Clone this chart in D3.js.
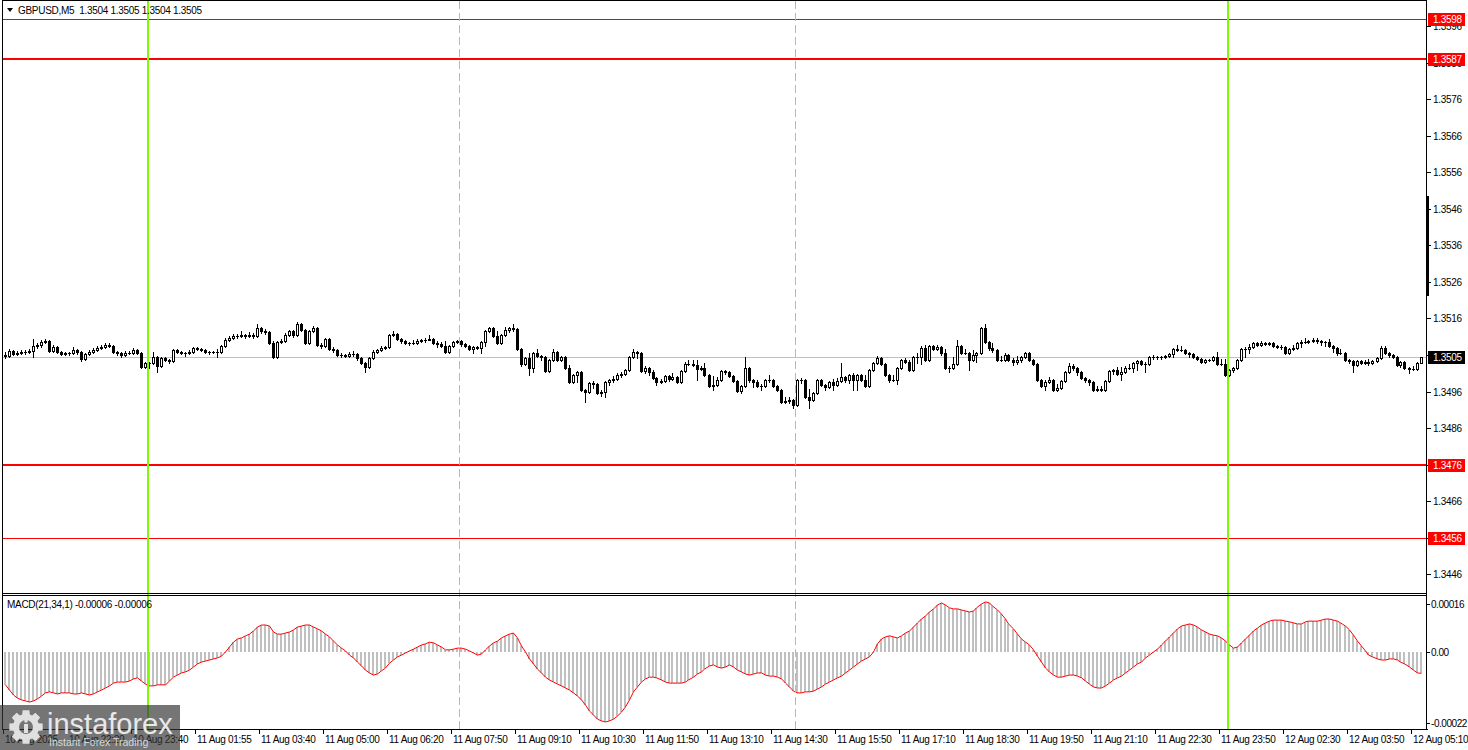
<!DOCTYPE html>
<html><head><meta charset="utf-8">
<script src="https://cdn.jsdelivr.net/npm/d3@7/dist/d3.min.js"></script>
<style>
html,body{margin:0;padding:0;background:#fff;overflow:hidden;}
svg{display:block;}
text{font-family:"Liberation Sans",Arial,sans-serif;}
</style></head><body>
<svg id="c" width="1468" height="750"></svg>
<script>
const symbol = "GBPUSD,M5";
const firstOpen = 1.35059;
const closes = [
1.35057,1.35070,1.35062,1.35065,1.35068,1.35068,1.35070,1.35084,1.35087,1.35095,
1.35098,1.35070,1.35081,1.35068,1.35062,1.35065,1.35065,1.35073,1.35068,1.35049,
1.35062,1.35068,1.35073,1.35079,1.35081,1.35087,1.35084,1.35068,1.35065,1.35059,
1.35065,1.35065,1.35073,1.35065,1.35027,1.35038,1.35038,1.35054,1.35029,1.35051,
1.35046,1.35043,1.35073,1.35068,1.35065,1.35065,1.35068,1.35079,1.35076,1.35073,
1.35068,1.35068,1.35068,1.35068,1.35084,1.35101,1.35106,1.35112,1.35112,1.35114,
1.35112,1.35114,1.35112,1.35133,1.35125,1.35122,1.35092,1.35054,1.35095,1.35098,
1.35114,1.35125,1.35114,1.35144,1.35128,1.35092,1.35125,1.35133,1.35087,1.35084,
1.35103,1.35076,1.35073,1.35059,1.35059,1.35057,1.35062,1.35062,1.35051,1.35038,
1.35027,1.35051,1.35068,1.35073,1.35079,1.35081,1.35114,1.35117,1.35103,1.35098,
1.35092,1.35092,1.35092,1.35098,1.35101,1.35101,1.35103,1.35092,1.35090,1.35084,
1.35068,1.35084,1.35095,1.35098,1.35090,1.35084,1.35076,1.35081,1.35079,1.35095,
1.35125,1.35133,1.35112,1.35092,1.35114,1.35128,1.35133,1.35131,1.35076,1.35035,
1.35051,1.35024,1.35065,1.35057,1.35054,1.35016,1.35046,1.35068,1.35046,1.35054,
1.35024,1.34986,1.35005,1.35013,1.34964,1.34958,1.34983,1.34980,1.34955,1.34958,
1.34986,1.34991,1.34994,1.35005,1.35008,1.35018,1.35054,1.35068,1.35065,1.35016,
1.35024,1.35013,1.34997,1.34986,1.34988,1.35002,1.34994,1.34999,1.34986,1.35016,
1.35035,1.35035,1.35032,1.35021,1.35024,1.35005,1.34975,1.34977,1.34991,1.35016,
1.35013,1.35002,1.34988,1.34961,1.34975,1.35024,1.34991,1.34986,1.34975,1.34975,
1.34991,1.34991,1.34975,1.34964,1.34931,1.34934,1.34936,1.34923,1.34991,1.34991,
1.34945,1.34936,1.34955,1.34991,1.34977,1.34972,1.34986,1.34977,1.34988,1.34999,
1.34991,1.35005,1.34991,1.35005,1.34991,1.34975,1.35018,1.35038,1.35051,1.35035,
1.35005,1.34991,1.34991,1.35024,1.35046,1.35040,1.35018,1.35054,1.35054,1.35079,
1.35046,1.35084,1.35076,1.35081,1.35065,1.35024,1.35024,1.35035,1.35084,1.35065,
1.35065,1.35046,1.35059,1.35065,1.35133,1.35095,1.35079,1.35073,1.35046,1.35046,
1.35059,1.35046,1.35040,1.35046,1.35054,1.35065,1.35046,1.35035,1.34991,1.34975,
1.34986,1.34991,1.34964,1.34969,1.34988,1.35013,1.35029,1.35024,1.35013,1.34997,
1.34991,1.34986,1.34964,1.34966,1.34964,1.34988,1.35016,1.35018,1.35008,1.35013,
1.35024,1.35024,1.35038,1.35043,1.35035,1.35035,1.35054,1.35054,1.35054,1.35054,
1.35057,1.35062,1.35076,1.35073,1.35073,1.35065,1.35062,1.35054,1.35049,1.35040,
1.35046,1.35046,1.35054,1.35035,1.35035,1.35005,1.35018,1.35024,1.35046,1.35076,
1.35076,1.35081,1.35092,1.35087,1.35092,1.35090,1.35092,1.35084,1.35081,1.35081,
1.35065,1.35076,1.35079,1.35092,1.35095,1.35095,1.35098,1.35101,1.35098,1.35095,
1.35095,1.35084,1.35079,1.35065,1.35065,1.35046,1.35043,1.35032,1.35043,1.35038,
1.35040,1.35038,1.35043,1.35051,1.35079,1.35065,1.35059,1.35054,1.35032,1.35040,
1.35024,1.35021,1.35021,1.35038,1.35054];
const highs = [
1.35068,1.35076,1.35073,1.35070,1.35073,1.35073,1.35076,1.35103,1.35092,1.35101,
1.35103,1.35101,1.35087,1.35084,1.35070,1.35068,1.35068,1.35081,1.35076,1.35070,
1.35065,1.35073,1.35079,1.35084,1.35087,1.35092,1.35092,1.35087,1.35070,1.35068,
1.35070,1.35070,1.35079,1.35076,1.35068,1.35040,1.35040,1.35068,1.35057,1.35054,
1.35054,1.35049,1.35076,1.35076,1.35070,1.35068,1.35073,1.35081,1.35081,1.35079,
1.35076,1.35070,1.35070,1.35076,1.35087,1.35106,1.35112,1.35117,1.35117,1.35125,
1.35117,1.35122,1.35120,1.35144,1.35136,1.35131,1.35125,1.35098,1.35098,1.35103,
1.35120,1.35128,1.35128,1.35150,1.35147,1.35131,1.35128,1.35139,1.35136,1.35092,
1.35106,1.35106,1.35081,1.35076,1.35065,1.35062,1.35068,1.35070,1.35065,1.35054,
1.35040,1.35054,1.35073,1.35076,1.35084,1.35084,1.35117,1.35125,1.35120,1.35106,
1.35101,1.35095,1.35101,1.35103,1.35103,1.35106,1.35114,1.35106,1.35098,1.35095,
1.35098,1.35087,1.35098,1.35101,1.35101,1.35092,1.35087,1.35084,1.35084,1.35098,
1.35128,1.35136,1.35136,1.35125,1.35117,1.35136,1.35136,1.35144,1.35133,1.35079,
1.35054,1.35065,1.35068,1.35076,1.35059,1.35057,1.35049,1.35076,1.35070,1.35057,
1.35057,1.35032,1.35008,1.35016,1.35016,1.34966,1.34986,1.34988,1.34983,1.34964,
1.34988,1.34994,1.35002,1.35010,1.35013,1.35021,1.35057,1.35076,1.35070,1.35068,
1.35029,1.35027,1.35018,1.34999,1.34994,1.35005,1.35005,1.35010,1.35002,1.35018,
1.35040,1.35046,1.35046,1.35046,1.35029,1.35038,1.35008,1.35002,1.34999,1.35018,
1.35018,1.35016,1.35005,1.34991,1.34977,1.35054,1.35027,1.34994,1.34991,1.34980,
1.34994,1.35005,1.34994,1.34977,1.34966,1.34945,1.34945,1.34939,1.34994,1.34997,
1.34994,1.34966,1.34958,1.34994,1.34994,1.34980,1.34988,1.34994,1.34997,1.35038,
1.35002,1.35008,1.35010,1.35008,1.35008,1.35005,1.35021,1.35040,1.35057,1.35054,
1.35038,1.35008,1.35005,1.35027,1.35049,1.35051,1.35046,1.35057,1.35065,1.35084,
1.35087,1.35087,1.35087,1.35087,1.35084,1.35076,1.35029,1.35054,1.35101,1.35087,
1.35076,1.35068,1.35073,1.35068,1.35136,1.35144,1.35098,1.35092,1.35076,1.35057,
1.35065,1.35062,1.35051,1.35057,1.35057,1.35068,1.35068,1.35049,1.35038,1.34994,
1.34991,1.34999,1.34994,1.34980,1.34991,1.35016,1.35038,1.35035,1.35027,1.35016,
1.34999,1.34994,1.34988,1.34975,1.34975,1.34991,1.35018,1.35021,1.35027,1.35027,
1.35029,1.35035,1.35040,1.35046,1.35046,1.35040,1.35057,1.35059,1.35057,1.35057,
1.35059,1.35065,1.35079,1.35087,1.35084,1.35076,1.35068,1.35065,1.35057,1.35051,
1.35049,1.35049,1.35057,1.35068,1.35049,1.35049,1.35021,1.35027,1.35049,1.35079,
1.35081,1.35090,1.35095,1.35095,1.35098,1.35095,1.35095,1.35095,1.35087,1.35087,
1.35084,1.35079,1.35087,1.35095,1.35101,1.35106,1.35101,1.35106,1.35106,1.35101,
1.35098,1.35103,1.35087,1.35081,1.35076,1.35068,1.35049,1.35046,1.35046,1.35046,
1.35046,1.35049,1.35046,1.35054,1.35084,1.35084,1.35068,1.35062,1.35057,1.35043,
1.35043,1.35027,1.35029,1.35040,1.35054];
const lows = [
1.35051,1.35054,1.35059,1.35059,1.35062,1.35062,1.35065,1.35054,1.35079,1.35081,
1.35092,1.35068,1.35068,1.35065,1.35059,1.35059,1.35059,1.35062,1.35062,1.35043,
1.35046,1.35059,1.35065,1.35070,1.35076,1.35079,1.35081,1.35065,1.35059,1.35054,
1.35057,1.35062,1.35062,1.35062,1.35024,1.35024,1.35024,1.35035,1.35013,1.35027,
1.35043,1.35038,1.35040,1.35065,1.35062,1.35057,1.35062,1.35065,1.35073,1.35070,
1.35065,1.35062,1.35065,1.35054,1.35065,1.35081,1.35098,1.35103,1.35106,1.35109,
1.35106,1.35109,1.35106,1.35109,1.35120,1.35117,1.35090,1.35051,1.35051,1.35092,
1.35095,1.35112,1.35109,1.35112,1.35125,1.35090,1.35090,1.35122,1.35084,1.35079,
1.35081,1.35073,1.35068,1.35057,1.35054,1.35054,1.35054,1.35057,1.35046,1.35035,
1.35013,1.35024,1.35049,1.35065,1.35070,1.35076,1.35079,1.35112,1.35101,1.35092,
1.35090,1.35087,1.35090,1.35090,1.35095,1.35095,1.35101,1.35090,1.35081,1.35081,
1.35065,1.35065,1.35081,1.35092,1.35084,1.35081,1.35073,1.35065,1.35076,1.35065,
1.35084,1.35122,1.35109,1.35090,1.35090,1.35112,1.35122,1.35125,1.35073,1.35029,
1.35032,1.35005,1.35013,1.35054,1.35046,1.35013,1.35013,1.35043,1.35043,1.35043,
1.35021,1.34983,1.34983,1.34986,1.34961,1.34931,1.34955,1.34969,1.34953,1.34947,
1.34945,1.34977,1.34986,1.34991,1.34999,1.35005,1.35016,1.35051,1.35051,1.35013,
1.35010,1.35005,1.34994,1.34977,1.34983,1.34986,1.34988,1.34991,1.34983,1.34983,
1.35013,1.35032,1.35029,1.34991,1.35018,1.35002,1.34972,1.34964,1.34975,1.34988,
1.35008,1.34999,1.34986,1.34958,1.34955,1.34972,1.34986,1.34972,1.34972,1.34964,
1.34972,1.34986,1.34972,1.34961,1.34928,1.34928,1.34928,1.34914,1.34920,1.34983,
1.34942,1.34914,1.34934,1.34953,1.34975,1.34964,1.34969,1.34964,1.34975,1.34986,
1.34986,1.34983,1.34964,1.34964,1.34988,1.34972,1.34972,1.35016,1.35035,1.35032,
1.35002,1.34986,1.34988,1.34980,1.35021,1.35038,1.35016,1.35016,1.35038,1.35035,
1.35043,1.35043,1.35073,1.35073,1.35059,1.35021,1.35013,1.35021,1.35032,1.35062,
1.35062,1.35018,1.35043,1.35040,1.35062,1.35092,1.35073,1.35068,1.35043,1.35043,
1.35043,1.35043,1.35032,1.35035,1.35040,1.35051,1.35043,1.35032,1.34988,1.34972,
1.34964,1.34983,1.34961,1.34961,1.34966,1.34986,1.35010,1.35018,1.35005,1.34994,
1.34986,1.34977,1.34961,1.34961,1.34961,1.34961,1.34986,1.35008,1.35005,1.34991,
1.35010,1.35021,1.35013,1.35018,1.35032,1.35013,1.35032,1.35049,1.35049,1.35049,
1.35051,1.35054,1.35054,1.35070,1.35070,1.35062,1.35054,1.35051,1.35046,1.35038,
1.35038,1.35043,1.35043,1.35032,1.35032,1.35002,1.35002,1.35013,1.35021,1.35043,
1.35054,1.35065,1.35079,1.35084,1.35084,1.35087,1.35087,1.35081,1.35079,1.35076,
1.35062,1.35062,1.35073,1.35076,1.35081,1.35092,1.35092,1.35095,1.35092,1.35087,
1.35084,1.35081,1.35068,1.35059,1.35062,1.35043,1.35038,1.35013,1.35029,1.35035,
1.35035,1.35032,1.35035,1.35040,1.35049,1.35062,1.35054,1.35051,1.35029,1.35027,
1.35021,1.35010,1.35018,1.35018,1.35038];
const macd = [
-0.000093,-0.000108,-0.000122,-0.000131,-0.000136,-0.000139,-0.000142,-0.000139,-0.000133,-0.000125,
-0.000116,-0.000113,-0.000116,-0.000119,-0.000116,-0.000116,-0.000116,-0.000119,-0.000119,-0.000116,
-0.000119,-0.000122,-0.000119,-0.000113,-0.000108,-0.000102,-0.000096,-0.000088,-0.000085,-0.000085,
-0.000085,-0.000082,-0.000076,-0.000073,-0.000082,-0.000091,-0.000096,-0.000096,-0.000093,-0.000093,
-0.000093,-0.000082,-0.000071,-0.000065,-0.000059,-0.000056,-0.000051,-0.000042,-0.000033,-0.000028,
-0.000025,-0.000022,-0.000019,-0.000016,-0.000011,0.000001,0.000015,0.000029,0.000038,0.000041,
0.000047,0.000052,0.000061,0.000072,0.000078,0.000078,0.000075,0.000058,0.000052,0.000052,
0.000055,0.000058,0.000064,0.000072,0.000075,0.000078,0.000078,0.000072,0.000067,0.000061,
0.000052,0.000044,0.000032,0.000021,0.000012,0.000004,-0.000008,-0.000016,-0.000028,-0.000039,
-0.000051,-0.000059,-0.000065,-0.000062,-0.000053,-0.000045,-0.000031,-0.000022,-0.000013,-0.000008,
-0.000002,0.000004,0.000009,0.000015,0.000021,0.000024,0.000029,0.000027,0.000021,0.000015,
0.000007,0.000007,0.000009,0.000012,0.000012,0.000009,0.000004,-0.000002,-0.000008,-0.000005,
0.000007,0.000018,0.000027,0.000032,0.000041,0.000047,0.000052,0.000055,0.000041,0.000018,
0.000001,-0.000019,-0.000033,-0.000048,-0.000059,-0.000071,-0.000079,-0.000085,-0.000091,-0.000096,
-0.000102,-0.000108,-0.000116,-0.000125,-0.000136,-0.000151,-0.000168,-0.000179,-0.000191,-0.000196,
-0.000199,-0.000196,-0.000191,-0.000182,-0.000171,-0.000156,-0.000136,-0.000113,-0.000099,-0.000085,
-0.000076,-0.000071,-0.000071,-0.000073,-0.000079,-0.000085,-0.000088,-0.000088,-0.000088,-0.000088,
-0.000085,-0.000079,-0.000071,-0.000062,-0.000056,-0.000048,-0.000039,-0.000036,-0.000042,-0.000045,
-0.000042,-0.000036,-0.000042,-0.000051,-0.000056,-0.000062,-0.000065,-0.000062,-0.000059,-0.000059,
-0.000065,-0.000068,-0.000068,-0.000071,-0.000076,-0.000088,-0.000099,-0.000111,-0.000116,-0.000116,
-0.000113,-0.000113,-0.000111,-0.000105,-0.000099,-0.000091,-0.000085,-0.000079,-0.000073,-0.000068,
-0.000059,-0.000051,-0.000042,-0.000033,-0.000025,-0.000019,-0.000013,0.000001,0.000024,0.000038,
0.000044,0.000047,0.000044,0.000041,0.000047,0.000055,0.000061,0.000072,0.000084,0.000095,
0.000104,0.000115,0.000124,0.000135,0.000141,0.000135,0.000127,0.000124,0.000124,0.000121,
0.000118,0.000115,0.000118,0.000127,0.000138,0.000144,0.000141,0.000132,0.000121,0.000109,
0.000095,0.000081,0.000067,0.000052,0.000038,0.000029,0.000021,0.000007,-0.000011,-0.000028,
-0.000045,-0.000056,-0.000065,-0.000071,-0.000071,-0.000068,-0.000065,-0.000065,-0.000068,-0.000073,
-0.000082,-0.000091,-0.000099,-0.000102,-0.000102,-0.000096,-0.000088,-0.000079,-0.000073,-0.000068,
-0.000059,-0.000051,-0.000042,-0.000033,-0.000028,-0.000016,-0.000008,0.000001,0.000009,0.000021,
0.000032,0.000044,0.000055,0.000067,0.000075,0.000078,0.000081,0.000078,0.000072,0.000064,
0.000058,0.000052,0.000049,0.000047,0.000041,0.000032,0.000021,0.000012,0.000015,0.000027,
0.000038,0.000049,0.000061,0.000069,0.000078,0.000084,0.000089,0.000092,0.000092,0.000092,
0.000089,0.000087,0.000084,0.000081,0.000081,0.000087,0.000089,0.000089,0.000089,0.000092,
0.000095,0.000095,0.000092,0.000089,0.000084,0.000075,0.000064,0.000049,0.000032,0.000018,
0.000004,-0.000008,-0.000013,-0.000019,-0.000022,-0.000022,-0.000019,-0.000019,-0.000022,-0.000028,
-0.000033,-0.000042,-0.000051,-0.000059,-0.000060];
const priceTicks = [1.3596,1.3586,1.3576,1.3566,1.3556,1.3546,1.3536,1.3526,1.3516,1.3506,1.3496,1.3486,1.3476,1.3466,1.3456,1.3446];
const levelPrices = [1.3598,1.3587,1.3476,1.3456];
const macdTicks = [0.00016, 0, -0.00022];
const timeTickBars = [0,16,32,48,64,80,96,112,128,144,160,176,192,208,224,240,256,272,288,304,320,336,352];
const timeTickLabels = ["10 Aug 2025","10 Aug 22:20","10 Aug 23:40","11 Aug 01:55","11 Aug 03:40","11 Aug 05:00","11 Aug 06:20","11 Aug 07:50","11 Aug 09:10","11 Aug 10:30","11 Aug 11:50","11 Aug 13:10","11 Aug 14:30","11 Aug 15:50","11 Aug 17:10","11 Aug 18:30","11 Aug 19:50","11 Aug 21:10","11 Aug 22:30","11 Aug 23:50","12 Aug 02:30","12 Aug 03:50","12 Aug 05:10"];
const solidLineBars = [36, 306];
const dashedLineBars = [114, 198];

// ---------- layout ----------
const svg = d3.select('#c');
const L = 2.5, R = 1426.5, mainTop = 0.5, mainBot = 593.5, macdTop = 595.5, macdBot = 729.5;
const n = closes.length;
const x = d3.scaleLinear().domain([0, n - 1]).range([4.5, 4.5 + 4 * (n - 1)]);
const y = d3.scaleLinear().domain([1.3446, 1.3596]).range([574.3, 26]);
const ym = d3.scaleLinear().domain([-0.00022, 0.00016]).range([729.3, 596.3]);
const FONT = 10, LS = '-0.3px';

const defs = svg.append('defs');
defs.append('clipPath').attr('id','clipMain').append('rect').attr('x',L).attr('y',mainTop).attr('width',R-L).attr('height',mainBot-mainTop);
defs.append('clipPath').attr('id','clipMacd').append('rect').attr('x',L).attr('y',macdTop).attr('width',R-L).attr('height',macdBot-macdTop);

svg.append('rect').attr('width',1468).attr('height',750).attr('fill','#fff');

// ---------- main chart ----------
const gMain = svg.append('g').attr('clip-path','url(#clipMain)').attr('shape-rendering','crispEdges');

const levelWidths = [1,2,2,1];
levelPrices.forEach((p,k)=>{
  const yy = Math.round(y(p));
  const yl = levelWidths[k]===2 ? yy : yy+0.5;
  gMain.append('line').attr('x1',L).attr('x2',R).attr('y1',yl).attr('y2',yl)
    .attr('stroke','#ff0000').attr('stroke-width',levelWidths[k]);
});
const lastClose = closes[n-1];
const bidY = Math.round(y(lastClose)) + 0.5;
gMain.append('line').attr('x1',L).attr('x2',R).attr('y1',bidY).attr('y2',bidY).attr('stroke','#c0c0c0');

closes.forEach((c,i)=>{
  const o = i===0 ? firstOpen : closes[i-1];
  const cx = Math.round(x(i));
  const yh = Math.round(y(highs[i])), yl = Math.round(y(lows[i]));
  const yo = y(o), yc = y(c);
  const top = Math.round(Math.min(yo,yc)), bot = Math.round(Math.max(yo,yc));
  gMain.append('line').attr('x1',cx+0.5).attr('x2',cx+0.5).attr('y1',yh).attr('y2',yl+1).attr('stroke','#000');
  if (bot - top < 1) {
    gMain.append('line').attr('x1',cx-1).attr('x2',cx+2).attr('y1',top+0.5).attr('y2',top+0.5).attr('stroke','#000');
  } else if (c > o) {
    gMain.append('rect').attr('x',cx-0.5).attr('y',top+0.5).attr('width',2).attr('height',bot-top).attr('fill','#fff').attr('stroke','#000');
  } else {
    gMain.append('rect').attr('x',cx-1).attr('y',top).attr('width',3).attr('height',bot-top+1).attr('fill','#000');
  }
});

// ---------- MACD ----------
const gMacd = svg.append('g').attr('clip-path','url(#clipMacd)');
const zeroY = ym(0);
gMacd.selectAll('rect.h').data(macd).enter().append('rect')
  .attr('x',(d,i)=>Math.round(x(i))-1).attr('width',2)
  .attr('y',d=>Math.round(Math.min(zeroY, ym(d)))).attr('height',d=>Math.max(1,Math.round(Math.abs(ym(d)-zeroY))))
  .attr('fill','#c0c0c0').attr('shape-rendering','crispEdges');
gMacd.append('path').datum(macd)
  .attr('d', d3.line().x((d,i)=>Math.round(x(i))+0.5).y(d=>ym(d)))
  .attr('fill','none').attr('stroke','#ff0000').attr('stroke-width',1);

// ---------- vertical lines ----------
const gV = svg.append('g').attr('shape-rendering','crispEdges');
solidLineBars.forEach(b=>{
  const xx = Math.round(x(b)) - 1.5;
  gV.append('line').attr('x1',xx).attr('x2',xx).attr('y1',mainTop).attr('y2',macdBot).attr('stroke','#7cfc00').attr('stroke-width',2);
});
dashedLineBars.forEach(b=>{
  const xx = Math.round(x(b)) - 1.5;
  gV.append('line').attr('x1',xx).attr('x2',xx).attr('y1',mainTop).attr('y2',macdBot).attr('stroke','#7cfc00').attr('stroke-width',1).attr('stroke-dasharray','8,4');
});

// ---------- frames ----------
const gF = svg.append('g').attr('shape-rendering','crispEdges').attr('stroke','#000').attr('fill','none');
gF.append('line').attr('x1',L).attr('x2',L).attr('y1',0).attr('y2',macdBot);
gF.append('line').attr('x1',R).attr('x2',R).attr('y1',0).attr('y2',macdBot);
gF.append('line').attr('x1',L).attr('x2',R).attr('y1',mainTop).attr('y2',mainTop);
gF.append('line').attr('x1',L).attr('x2',R).attr('y1',mainBot).attr('y2',mainBot);
gF.append('line').attr('x1',L).attr('x2',R).attr('y1',macdTop).attr('y2',macdTop);
gF.append('line').attr('x1',L).attr('x2',R+1).attr('y1',macdBot).attr('y2',macdBot);
svg.append('rect').attr('x',1426).attr('y',196).attr('width',3).attr('height',100).attr('fill','#000');

// ---------- price axis ----------
const gA = svg.append('g').attr('font-size',FONT).attr('letter-spacing',LS);
priceTicks.forEach(p=>{
  const yy = Math.round(y(p)) + 0.5;
  gA.append('line').attr('x1',1427).attr('x2',1431).attr('y1',yy).attr('y2',yy).attr('stroke','#000').attr('shape-rendering','crispEdges');
  gA.append('text').attr('x',1433).attr('y',yy).attr('dy','0.35em').attr('fill','#000').text(p.toFixed(4));
});
function priceBox(p, bg){
  const yy = Math.round(y(p));
  gA.append('rect').attr('x',1428).attr('y',yy-6).attr('width',37).attr('height',13).attr('fill',bg).attr('shape-rendering','crispEdges');
  gA.append('text').attr('x',1433).attr('y',yy+0.5).attr('dy','0.35em').attr('fill','#fff').text(p.toFixed(4));
}
levelPrices.forEach(p=>priceBox(p,'#ff0000'));
priceBox(lastClose,'#000');

// ---------- MACD axis ----------
macdTicks.forEach((v,k)=>{
  let yy = ym(v);
  if (k===0) yy = macdTop + 8; else if (k===2) yy = macdBot - 7;
  yy = Math.round(yy) + 0.5;
  const lbl = v===0 ? '0.00' : v.toFixed(5);
  gA.append('line').attr('x1',1427).attr('x2',1430).attr('y1',yy).attr('y2',yy).attr('stroke','#000').attr('shape-rendering','crispEdges');
  gA.append('text').attr('x',1431).attr('y',yy).attr('dy','0.35em').attr('fill','#000').attr('letter-spacing','-0.45px').text(lbl);
});

// ---------- time axis ----------
timeTickBars.forEach((b,k)=>{
  const xx = Math.round(x(b)) - 1.5;
  gA.append('line').attr('x1',xx).attr('x2',xx).attr('y1',macdBot).attr('y2',macdBot+4).attr('stroke','#000').attr('shape-rendering','crispEdges');
  gA.append('text').attr('x',xx+1.5).attr('y',743).attr('fill','#000').text(timeTickLabels[k]);
});

// ---------- titles ----------
svg.append('path').attr('d','M7,8 L13,8 L10,12 Z').attr('fill','#000');
const fmt4 = v=>v.toFixed(4);
const lastOpen = closes[n-2];
svg.append('text').attr('x',18).attr('y',14).attr('font-size',FONT).attr('letter-spacing',LS).style('white-space','pre').attr('fill','#000')
  .text(`${symbol}  ${fmt4(lastOpen)} ${fmt4(highs[n-1])} ${fmt4(lows[n-1])} ${fmt4(lastClose)}`);
const lastMacd = macd[n-1];
svg.append('text').attr('x',7).attr('y',608).attr('font-size',FONT).attr('letter-spacing',LS).attr('fill','#000')
  .text(`MACD(21,34,1) ${lastMacd.toFixed(5)} ${lastMacd.toFixed(5)}`);

// ---------- watermark logo ----------
const gl = svg.append('g');
gl.append('rect').attr('x',0).attr('y',705).attr('width',180).attr('height',45).attr('fill','#333').attr('opacity',0.68);
(function gear(cx, cy){
  const teeth = 8, rO = 17, rI = 13, hole = 7;
  let d = '';
  for (let k=0;k<teeth;k++){
    const a = k*2*Math.PI/teeth;
    const pts = [[rI,a-0.30],[rO,a-0.20],[rO,a+0.20],[rI,a+0.30]];
    pts.forEach((p,j)=>{ d += (k===0&&j===0?'M':'L') + (cx+p[0]*Math.cos(p[1])).toFixed(2)+','+(cy+p[0]*Math.sin(p[1])).toFixed(2); });
    const a2 = a + 2*Math.PI/teeth - 0.30;
    d += `A${rI},${rI} 0 0 1 ${(cx+rI*Math.cos(a2)).toFixed(2)},${(cy+rI*Math.sin(a2)).toFixed(2)}`;
  }
  d += `Z M${cx+hole},${cy} A${hole},${hole} 0 1 0 ${cx-hole},${cy} A${hole},${hole} 0 1 0 ${cx+hole},${cy} Z`;
  gl.append('path').attr('d',d).attr('fill','#e0e0e0').attr('fill-rule','evenodd');
  gl.append('rect').attr('x',cx-2).attr('y',cy-3).attr('width',4).attr('height',9).attr('fill','#e0e0e0');
  gl.append('circle').attr('cx',cx).attr('cy',cy-6).attr('r',1.8).attr('fill','#e0e0e0');
})(26, 727);
gl.append('text').attr('x',47).attr('y',734).attr('font-size',29).attr('fill','#e8e8e8').text('instaforex');
gl.append('text').attr('x',49).attr('y',746).attr('font-size',10.5).attr('fill','#d8d8d8').text('Instant Forex Trading');
</script>
</body></html>
